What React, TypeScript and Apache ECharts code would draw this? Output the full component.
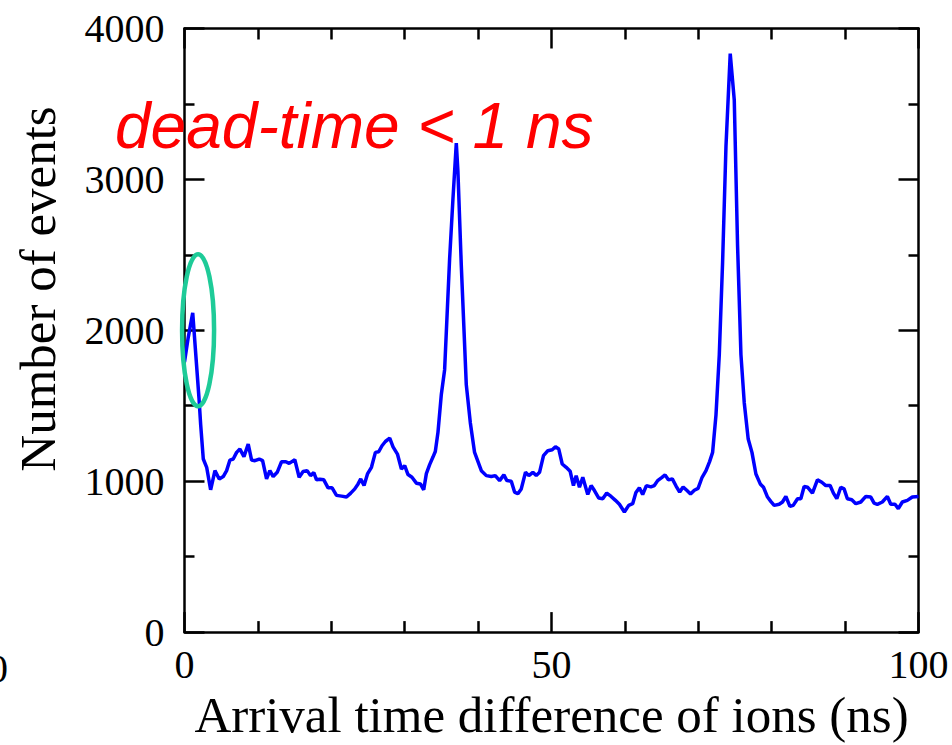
import React, { useEffect, useRef } from "react";
import * as echarts from "echarts";

const timeNs = [0, 0.5, 1.12, 1.97, 2.2, 2.56, 3.02, 3.56, 4.15, 4.73, 5.28, 5.74, 6.19, 6.64, 7.1, 7.55, 8.1, 8.68, 9.14, 9.59, 10.18, 10.64, 11.18, 11.63, 12.08, 12.63, 13.22, 13.81, 14.26, 15.03, 15.62, 16.16, 16.71, 17.17, 17.62, 17.99, 18.44, 18.98, 19.56, 20.11, 20.71, 21.39, 22.07, 22.65, 23.2, 23.65, 24.01, 24.46, 24.93, 25.47, 26.01, 26.46, 26.91, 27.37, 27.96, 28.41, 29.01, 29.55, 30.0, 30.45, 30.99, 31.59, 32.14, 32.59, 32.95, 33.4, 33.85, 34.17, 34.53, 34.99, 35.44, 36.12, 36.57, 37.03, 37.25, 37.71, 38.39, 38.94, 39.52, 40.44, 41.12, 41.8, 42.34, 42.93, 43.51, 43.92, 44.52, 44.97, 45.42, 45.88, 46.46, 46.91, 47.46, 47.92, 48.37, 48.91, 49.5, 50.1, 50.54, 50.99, 51.46, 52.0, 52.54, 52.99, 53.36, 53.81, 54.26, 54.94, 55.4, 55.85, 56.44, 56.98, 57.52, 58.12, 58.71, 59.25, 59.93, 60.52, 61.06, 61.5, 61.97, 62.42, 62.93, 63.54, 64.01, 64.46, 65.01, 65.47, 65.92, 66.46, 66.97, 67.46, 67.93, 68.46, 68.94, 69.46, 69.97, 70.52, 71.05, 71.54, 71.95, 72.41, 72.86, 73.31, 73.77, 74.35, 74.9, 75.35, 75.81, 76.26, 76.8, 77.31, 77.85, 78.44, 78.88, 79.43, 79.9, 80.34, 81.02, 81.47, 81.93, 82.48, 82.93, 83.52, 83.97, 84.42, 84.88, 85.55, 86.23, 86.83, 87.37, 87.96, 88.41, 88.87, 89.41, 89.86, 90.31, 90.91, 91.46, 92.14, 92.82, 93.5, 93.95, 94.39, 95.07, 95.76, 96.22, 96.8, 97.25, 97.8, 98.48, 99.16, 100];

const eventCounts = [1790, 1950, 2116, 1553, 1377, 1147, 1092, 943, 1070, 1015, 1031, 1070, 1140, 1147, 1191, 1213, 1163, 1246, 1140, 1136, 1147, 1136, 1015, 1070, 1031, 1059, 1129, 1129, 1118, 1142, 1026, 1064, 1070, 1037, 1057, 1009, 1013, 1009, 956, 956, 906, 901, 895, 921, 949, 982, 1015, 971, 1048, 1092, 1191, 1195, 1235, 1263, 1285, 1228, 1180, 1081, 1103, 1044, 1026, 987, 982, 943, 1050, 1110, 1160, 1197, 1322, 1575, 1739, 2474, 2868, 3241, 3055, 2430, 1640, 1388, 1191, 1070, 1037, 1031, 1037, 1004, 1042, 1004, 1000, 928, 917, 949, 1059, 1037, 1059, 1037, 1059, 1169, 1202, 1208, 1228, 1213, 1114, 1092, 1066, 971, 1037, 960, 1026, 912, 971, 938, 888, 884, 921, 899, 873, 847, 796, 840, 851, 925, 956, 912, 971, 962, 971, 1004, 1024, 1042, 1009, 1015, 968, 928, 962, 938, 915, 940, 952, 1026, 1070, 1130, 1191, 1440, 1838, 2452, 3219, 3833, 3526, 2561, 1838, 1520, 1279, 1191, 1048, 982, 960, 895, 865, 840, 847, 862, 899, 833, 840, 884, 884, 965, 960, 921, 1009, 993, 971, 971, 921, 884, 960, 949, 884, 877, 851, 862, 899, 895, 855, 847, 862, 899, 847, 847, 818, 862, 873, 895, 899];

const xLabelValues = [0, 50, 100];
const yLabelValues = [0, 1000, 2000, 3000, 4000];

const xTitle = "Arrival time difference of ions (ns)";
const yTitle = "Number of events";
const annotation = "dead-time < 1 ns";
// annotated region (highlighted by the ellipse): time in ns, counts
const highlightCenter = [1.85, 2000];

const SERIF = "'Liberation Serif', 'Times New Roman', serif";

export default function App() {
  const ref = useRef<HTMLDivElement>(null);

  useEffect(() => {
    if (!ref.current) return;
    const chart = echarts.init(ref.current, null, { renderer: "svg" });
    const data = timeNs.map((t, i) => [t, eventCounts[i]]);
    const axisLine = { show: true, onZero: false, lineStyle: { color: "#000", width: 2.5 } };

    const xBase = {
      type: "value" as const,
      min: 0,
      max: 100,
      interval: 50,
      splitLine: { show: false },
      axisLine,
      axisTick: { show: true, inside: true, length: 20, lineStyle: { color: "#000", width: 2.5 } },
      minorTick: { show: true, splitNumber: 5, length: 11, lineStyle: { color: "#000", width: 2.5 } },
    };
    const yBase = {
      type: "value" as const,
      min: 0,
      max: 4000,
      interval: 1000,
      splitLine: { show: false },
      axisLine,
      axisTick: { show: true, inside: true, length: 20, lineStyle: { color: "#000", width: 2.5 } },
      minorTick: { show: true, splitNumber: 2, length: 10, lineStyle: { color: "#000", width: 2.5 } },
    };

    chart.setOption({
      animation: false,
      backgroundColor: "#fff",
      grid: { left: 184.5, right: 33.5, top: 28.5, bottom: 109, containLabel: false },
      xAxis: [
        {
          ...xBase,
          position: "bottom",
          name: xTitle,
          nameLocation: "middle",
          nameGap: 55,
          nameTextStyle: { fontFamily: SERIF, fontSize: 51, color: "#000" },
          axisLabel: {
            show: true,
            margin: 12,
            fontFamily: SERIF,
            fontSize: 40,
            color: "#000",
            formatter: (v: number) => (xLabelValues.includes(v) ? String(v) : ""),
          },
        },
        { ...xBase, position: "top", axisLabel: { show: false } },
      ],
      yAxis: [
        {
          ...yBase,
          position: "left",
          axisLabel: {
            show: true,
            margin: 20,
            fontFamily: SERIF,
            fontSize: 40,
            color: "#000",
            formatter: (v: number) => (yLabelValues.includes(v) ? String(v) : ""),
          },
        },
        { ...yBase, position: "right", axisLabel: { show: false } },
      ],
      series: [
        {
          type: "line",
          data,
          xAxisIndex: 0,
          yAxisIndex: 0,
          showSymbol: false,
          symbol: "none",
          lineStyle: { color: "#0000ff", width: 3.5 },
          z: 3,
        },
      ],
    });

    const c = chart.convertToPixel({ gridIndex: 0 }, highlightCenter) as number[];
    chart.setOption({
      graphic: [
        {
          type: "ellipse",
          shape: { cx: c[0], cy: c[1], rx: 16, ry: 76 },
          style: { fill: "none", stroke: "#1ecb98", lineWidth: 4.5 },
          z: 10,
        },
        {
          type: "text",
          x: 38,
          y: 289,
          rotation: Math.PI / 2,
          style: {
            text: yTitle,
            fill: "#000",
            font: `51px ${SERIF}`,
            textAlign: "center",
            textVerticalAlign: "middle",
          },
          z: 10,
        },
        {
          type: "text",
          x: 115,
          y: 126,
          style: {
            text: annotation,
            fill: "#ff0000",
            font: "italic 64px 'Liberation Sans', Arial, sans-serif",
            textAlign: "left",
            textVerticalAlign: "middle",
          },
          z: 10,
        },
        {
          type: "text",
          x: 8,
          y: 668,
          style: {
            text: "0",
            fill: "#000",
            font: `40px ${SERIF}`,
            textAlign: "right",
            textVerticalAlign: "middle",
          },
          z: 10,
        },
      ],
    });

    return () => chart.dispose();
  }, []);

  return (
    <div
      ref={ref}
      style={{ position: "absolute", left: 0, top: 0, width: 952, height: 745 }}
    />
  );
}
